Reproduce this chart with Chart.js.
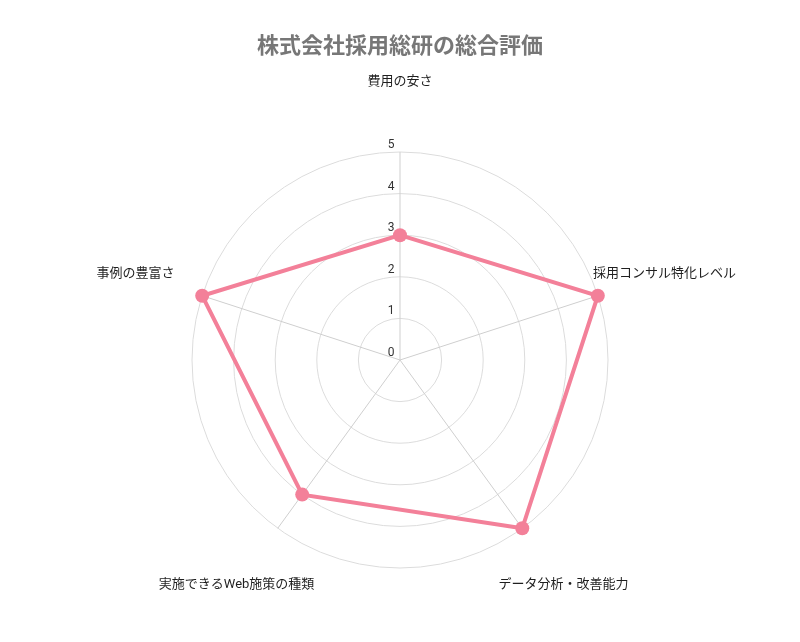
<!DOCTYPE html>
<html lang="ja">
<head>
<meta charset="utf-8">
<title>株式会社採用総研の総合評価</title>
<script src="https://cdn.jsdelivr.net/npm/chart.js@4/dist/chart.umd.min.js"></script>
<style>
    html, body { margin: 0; padding: 0; background: #fff; }
    #wrap { width: 800px; height: 642px; }
</style>
</head>
<body>
<div id="wrap"><canvas id="radar" width="800" height="642"></canvas></div>
<script>
const chartTitle = '株式会社採用総研の総合評価';
const categories = ['費用の安さ', '採用コンサル特化レベル', 'データ分析・改善能力', '実施できるWeb施策の種類', '事例の豊富さ'];
const scores = [3, 5, 5, 4, 5];
const tickLabels = ['0', '1', '2', '3', '4', '5'];

const fontFamily = "Roboto, 'Noto Sans CJK JP', sans-serif";
const pink = 'rgb(243, 128, 153)';

// ラベルと目盛りは中央揃えで自前描画
const labelPlugin = {
    id: 'radarLabels',
    afterDraw(chart) {
        const scale = chart.scales.r;
        const ctx = chart.ctx;
        ctx.save();
        ctx.textBaseline = 'middle';
        ctx.textAlign = 'center';

        ctx.font = `12px ${fontFamily}`;
        ctx.fillStyle = '#333';
        scale.ticks.forEach((tick, i) => {
            const d = scale.getDistanceFromCenterForValue(tick.value);
            ctx.fillText(tickLabels[i] ?? tick.label, scale.xCenter - 9, scale.yCenter - d - 7);
        });

        ctx.font = `13px ${fontFamily}`;
        ctx.fillStyle = '#1f1f1f';
        categories.forEach((label, i) => {
            const p = scale.getPointPosition(i, scale.drawingArea + 70);
            ctx.fillText(label, p.x, p.y);
        });
        ctx.restore();
    }
};

const ctx = document.getElementById('radar').getContext('2d');
new Chart(ctx, {
    type: 'radar',
    data: {
        labels: categories,
        datasets: [{
            data: scores,
            fill: false,
            borderColor: pink,
            backgroundColor: pink,
            borderWidth: 4,
            pointRadius: 7,
            pointHoverRadius: 7,
            pointBackgroundColor: pink,
            pointBorderColor: pink,
            pointBorderWidth: 0
        }]
    },
    options: {
        responsive: false,
        animation: false,
        layout: { padding: { top: 0, bottom: 73, left: 0, right: 0 } },
        scales: {
            r: {
                min: 0,
                max: 5,
                ticks: { display: false, stepSize: 1 },
                grid: { circular: true, color: '#dcdcdc', lineWidth: 1 },
                angleLines: { color: '#cfcfcf', lineWidth: 1 },
                pointLabels: { display: false }
            }
        },
        plugins: {
            legend: { display: false },
            tooltip: { enabled: false },
            title: {
                display: true,
                text: chartTitle,
                color: '#777',
                font: { family: fontFamily, size: 22, weight: 'bold' },
                padding: { top: 34, bottom: 91 }
            }
        }
    },
    plugins: [labelPlugin]
});
</script>
</body>
</html>
